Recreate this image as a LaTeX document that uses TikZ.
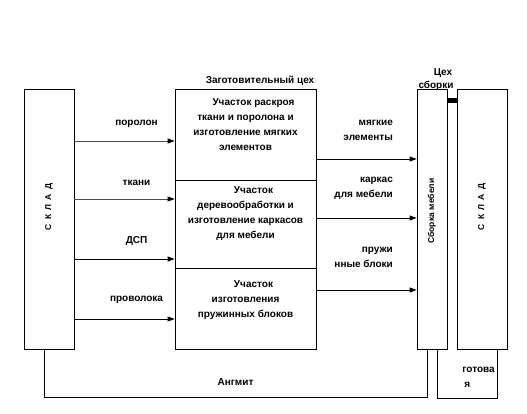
\documentclass[tikz,border=0pt]{standalone}
\usepackage{fontspec}
\setmainfont{Liberation Sans}
\usetikzlibrary{positioning,arrows.meta}

\begin{document}
\begin{tikzpicture}[x=1pt,y=-1pt,line width=.8pt,font=\fontsize{10}{15}\selectfont\bfseries,
b/.style={draw,inner sep=0pt,minimum width=#1},
t/.style={align=center,inner sep=0pt,anchor=north},
v/.style={rotate=90,inner sep=0pt,font=\fontsize{8.5}{9}\selectfont\bfseries},
a/.style={-{Triangle[length=7pt,width=5pt,color=black]}}]
\useasboundingbox (0,0) rectangle (527,413);
\node[b=50pt,minimum height=260pt](skladL) at (49,219){};
\node[b=141pt,minimum height=91pt](raskroj) at (245.5,134.5){};
\node[b=141pt,minimum height=88pt](karkas) at (245.5,224){};
\node[b=141pt,minimum height=81pt](pruzh) at (245.5,308.5){};
\node[b=30pt,minimum height=260pt](sborka) at (432,219){};
\node[b=50pt,minimum height=260pt](skladR) at (482,219){};
% texts
\node[t,below=10pt of raskroj.north](raskrojT){\hspace*{1.6em}Участок раскроя\\ткани и поролона и\\изготовление мягких\\элементов};
\node[t,below=7pt of karkas.north](karkasT){\hspace*{1.6em}Участок\\деревообработки и\\изготовление каркасов\\для мебели};
\node[t,below=13pt of pruzh.north](pruzhT){\hspace*{1.6em}Участок\\изготовления\\пружинных блоков};
\node[anchor=base](zag) at ([xshift=14.5pt,yshift=5pt]raskroj.north){Заготовительный цех};
\node[anchor=base](cex) at (443,75){Цех};
\node[anchor=base,inner sep=0pt](cexS) at (436,88){сборки};
\fill (447,98) rectangle (457,103);
\node[v](skladLt) at ([yshift=12pt]skladL.center){С\,\,\,К\,\,\,Л\,\,\,А\,\,\,Д};
\node[v](skladRt) at ([yshift=12pt]skladR.center){С\,\,\,К\,\,\,Л\,\,\,А\,\,\,Д};
\node[v,font=\fontsize{8.5}{9}\selectfont\bfseries](sborkaT) at ([yshift=8pt]sborka.center){Сборка\,\,мебели};
% arrows
\draw[a,black!70](skladL.east |- 0,141)--node[pos=.62,above=10pt,black]{поролон}(raskroj.west |- 0,141);
\draw[a,black!70](skladL.east |- 0,199)--node[pos=.62,above=10pt,black]{ткани}(karkas.west |- 0,199);
\draw[a](skladL.east |- 0,259)--node[pos=.62,above=10pt]{ДСП}(karkas.west |- 0,259);
\draw[a](skladL.east |- 0,319)--node[pos=.62,above=12pt]{проволока}(pruzh.west |- 0,319);
\draw[a](raskroj.east |- 0,159)--node[pos=.8,anchor=south east,align=right,yshift=15pt]{мягкие\\элементы}(sborka.west |- 0,159);
\draw[a](karkas.east |- 0,218)--node[pos=.8,anchor=south east,align=right,yshift=15pt]{каркас\\для мебели}(sborka.west |- 0,218);
\draw[a](pruzh.east |- 0,290)--node[pos=.8,anchor=south east,align=right,yshift=19pt]{пружи\\нные блоки}(sborka.west |- 0,290);
\draw([xshift=-5pt]skladL.south)--++(0,48)-|node[pos=.25,above=8pt]{Ангмит}([xshift=-5pt]sborka.south);
\draw([xshift=5pt]sborka.south)--++(0,49)-|([xshift=15pt]skladR.south);
\node[anchor=north west,align=left,inner sep=0pt](gotov) at (462,367){готова\\\hspace*{2pt}я};
\end{tikzpicture}
\end{document}
